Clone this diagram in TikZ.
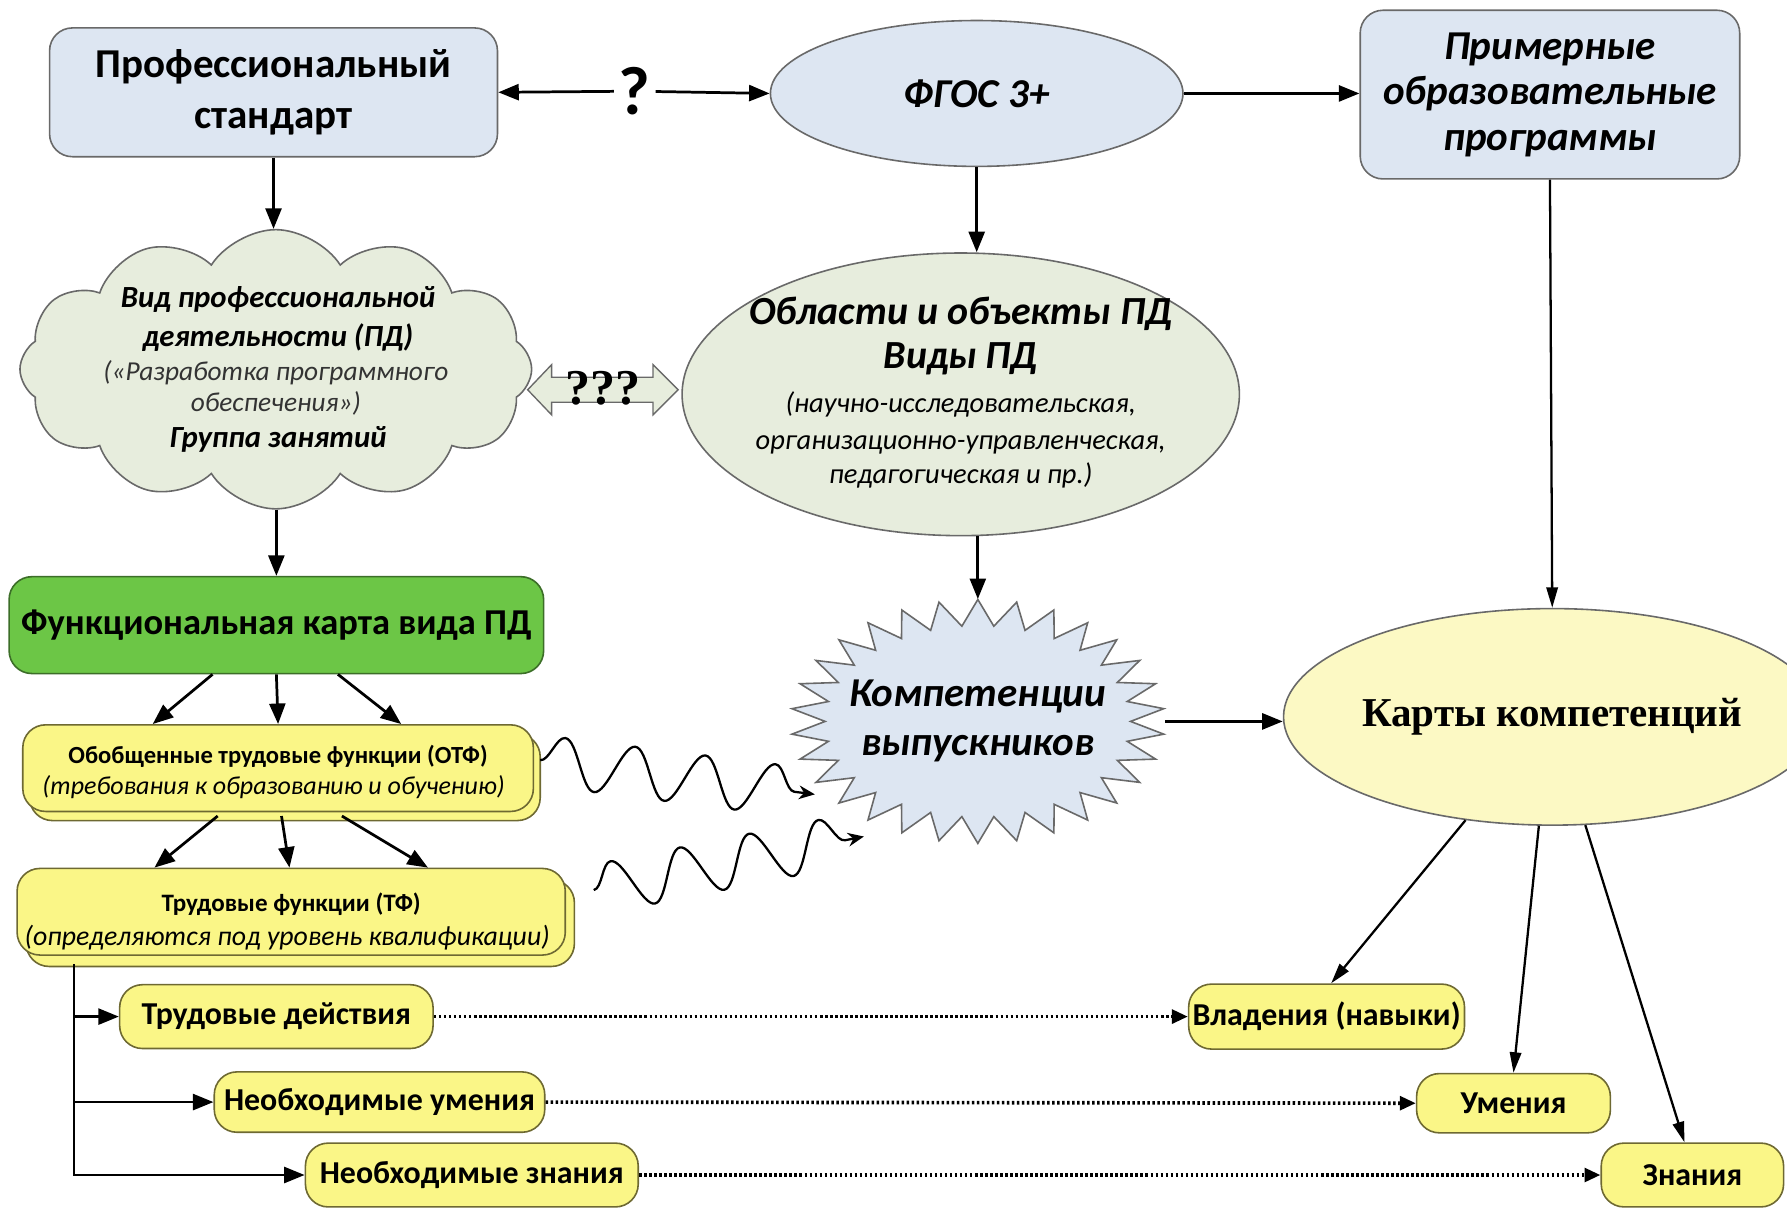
\documentclass[tikz,border=0pt]{standalone}
\usepackage{fontspec}
\setmainfont{Carlito}
\newfontfamily\tnr{Liberation Serif}
\usetikzlibrary{shapes.geometric,shapes.symbols,arrows.meta,decorations.pathmorphing,shadows,calc}
\definecolor{bluef}{RGB}{221,230,242}
\definecolor{greenf}{RGB}{231,237,221}
\definecolor{greenb}{RGB}{108,198,70}
\definecolor{greenbd}{RGB}{60,110,40}
\definecolor{yel}{RGB}{250,246,135}
\definecolor{yell}{RGB}{252,249,196}
\definecolor{edge}{RGB}{105,105,105}
\definecolor{yedge}{RGB}{110,105,50}
\newcommand\fz[2]{\fontsize{#1}{#2}\selectfont}
\begin{document}
\begin{tikzpicture}[x=0.5pt,y=-0.5pt,
  rbox/.style={draw=edge, line width=0.7pt, rounded corners=10pt, align=center, inner sep=0pt},
  ell/.style={ellipse, draw=edge, line width=0.7pt, inner sep=0pt, align=center},
  ybox/.style={rbox, fill=yel, draw=yedge, rounded corners=10pt},
  pill/.style={ybox, font=\fz{14}{16}\bfseries},
  arr/.style={line width=1.2pt, -{Triangle[length=9pt,width=7pt]}},
  thinarr/.style={line width=1pt, -{Triangle[length=9pt,width=5pt]}},
  dotarr/.style={line width=1.6pt, dash pattern=on 1.1pt off 1.1pt, -{Triangle[length=7pt,width=6pt]}},
  wavy/.style={line width=1pt, -{Stealth[length=7pt,width=6pt]}, decorate,
     decoration={snake, amplitude=11pt, segment length=31pt, post length=5pt}},
  txt/.style={inner sep=0pt, anchor=base}]
\fill[white] (0,0) rectangle (1568,1060);
\useasboundingbox (0,0) rectangle (1568,1060);

% ---------- top row
\node[rbox, fill=bluef, minimum width=196.5pt, minimum height=56.5pt, font=\fz{18}{22}\bfseries] (ps) at (240,81) {Профессиональный\\стандарт};
\node[ell, fill=bluef, minimum width=181pt, minimum height=64pt, font=\fz{18}{22}\bfseries\itshape] (fgos) at (857,82) {ФГОС 3+};
\node[rbox, fill=bluef, minimum width=166.5pt, minimum height=74pt, font=\fz{18}{20}\bfseries\itshape] (prog) at (1360,83) {Примерные\\образовательные\\программы};
\node[font=\fz{30}{30}\bfseries, inner sep=2pt] (qm) at (557,80) {?};

% ---------- cloud
\node[cloud, cloud puffs=12, cloud puff arc=115, aspect=1.85, fill=greenf, draw=edge, line width=0.7pt,
      minimum width=224.5pt, minimum height=122.5pt] (cloud) at (242,324) {};
\node[txt, font=\fz{13.5}{16}\bfseries\itshape] at (244,270) {Вид профессиональной};
\node[txt, font=\fz{13.5}{16}\bfseries\itshape] at (244,304) {деятельности (ПД)};
\node[txt, font=\fz{12}{14}\itshape, text=black!80] at (242,334) {(«Разработка программного};
\node[txt, font=\fz{12}{14}\itshape, text=black!80] at (242,361) {обеспечения»)};
\node[txt, font=\fz{13.5}{16}\bfseries\itshape] at (244,393) {Группа занятий};

% ---------- oblasti ellipse
\node[ell, fill=greenf, minimum width=244.5pt, minimum height=124pt] (obl) at (843,346) {};
\node[txt, font=\fz{17.5}{21}\bfseries\itshape] at (843,285) {Области и объекты ПД};
\node[txt, font=\fz{17.5}{21}\bfseries\itshape] at (843,323) {Виды ПД};
\node[txt, font=\fz{12.5}{15}\itshape] at (843,362) {(научно-исследовательская,};
\node[txt, font=\fz{12.5}{15}\itshape] at (843,394) {организационно-управленческая,};
\node[txt, font=\fz{12.5}{15}\itshape] at (843,424) {педагогическая и пр.)};

% ---------- ??? double arrow
\coordinate (da) at (529,342);
\filldraw[fill=greenf, draw=edge, line width=0.6pt]
  ($(da)+(-66,0)$) -- ($(da)+(-45,-22)$) -- ($(da)+(-45,-11)$) -- ($(da)+(44,-11)$) -- ($(da)+(44,-22)$)
  -- ($(da)+(66,0)$) -- ($(da)+(44,22)$) -- ($(da)+(44,11)$) -- ($(da)+(-45,11)$) -- ($(da)+(-45,22)$) -- cycle;
\node[txt, font=\fz{22}{22}\bfseries\tnr] (qqq) at (529,355) {???};

% ---------- functional map
\node[rbox, fill=greenb, draw=greenbd, minimum width=234.5pt, minimum height=42.5pt, font=\fz{16}{19}\bfseries] (func) at (242.5,548.5) {Функциональная карта вида ПД};

% ---------- OTF / TF
\node[ybox, minimum width=224pt, minimum height=38pt, copy shadow={shadow xshift=3pt, shadow yshift=-4pt, fill=yel, draw=yedge, line width=0.7pt}] (otf) at (244,674) {};
\node[txt, font=\fz{10.8}{13}\bfseries] at (244,670) {Обобщенные трудовые функции (ОТФ)};
\node[txt, font=\fz{11.4}{14}\itshape] at (240,697) {(требования к образованию и обучению)};

\node[ybox, minimum width=240.5pt, minimum height=38pt, copy shadow={shadow xshift=4pt, shadow yshift=-5pt, fill=yel, draw=yedge, line width=0.7pt}] (tf) at (255.5,800) {};
\node[txt, font=\fz{11}{14}\bfseries] at (255.5,800) {Трудовые функции (ТФ)};
\node[txt, font=\fz{12.2}{14}\itshape] at (252,830) {(определяются под уровень квалификации)};

% ---------- star
\filldraw[fill=bluef, draw=edge, line width=0.7pt]
  plot[samples at={0,...,59}, variable=\k]
  ({858+(134+30*mod(\k+1,2))*cos(6*\k+90)}, {633+(84+23*mod(\k+1,2))*sin(6*\k+90)}) -- cycle;
\node[ellipse, minimum width=164pt, minimum height=107pt, inner sep=0pt] (komp) at (858,633) {};
\node[txt, font=\fz{18}{22}\bfseries\itshape] at (858,620) {Компетенции};
\node[txt, font=\fz{18}{22}\bfseries\itshape] at (858,663) {выпускников};

% ---------- karty
\node[ell, fill=yell, minimum width=201pt, minimum height=95pt, font=\fz{18}{22}\bfseries\tnr] (karty) at (1362,629) {Карты компетенций};

% ---------- bottom pills
\node[pill, minimum width=137.5pt, minimum height=28pt] (td) at (242.5,892) {Трудовые действия};
\node[pill, minimum width=145pt, minimum height=26.5pt] (nu) at (333,967) {Необходимые умения};
\node[pill, minimum width=146pt, minimum height=28pt] (nz) at (414,1031) {Необходимые знания};
\node[pill, minimum width=121pt, minimum height=28.5pt] (vl) at (1164,892) {Владения (навыки)};
\node[pill, minimum width=85pt, minimum height=26pt] (um) at (1328,968) {Умения};
\node[pill, minimum width=80pt, minimum height=28pt] (zn) at (1485,1031) {Знания};

% ---------- connectors
\draw[arr] (qm) -- (ps.east);
\draw[arr] (qm) -- (fgos.west);
\draw[arr] (fgos.east) -- (prog.west |- fgos.east);
\draw[arr] (ps.south) -- (ps.south |- cloud.north);
\draw[arr] (fgos.south) -- (fgos.south |- obl.north);
\draw[arr] (cloud.south -| func.north) -- (func.north);
\draw[arr] (obl.south -| komp.north) -- (komp.north);
\draw[arr] (komp.east) -- (komp.east -| karty.west);
\draw[thinarr] (prog.south) -- (karty.north);

\draw[arr] ([xshift=-28pt]func.south) -- ([xshift=-55pt]otf.north);
\draw[arr] (func.south) -- (otf.north);
\draw[arr] ([xshift=27pt]func.south) -- ([xshift=54pt]otf.north);

\coordinate (otfb) at (244,716);
\draw[arr] ([xshift=-26.5pt]otfb) -- ([xshift=-60pt]tf.north);
\draw[arr] ([xshift=1.5pt]otfb) -- ([xshift=-0.75pt]tf.north);
\draw[arr] ([xshift=28pt]otfb) -- ([xshift=60pt]tf.north);

\coordinate (tfl) at (65,846);
\draw[arr] (tfl) |- (td.west);
\draw[arr] (tfl) |- (nu.west);
\draw[arr] (tfl) |- (nz.west);

\draw[dotarr] (td.east) -- (vl.west);
\draw[dotarr] (nu.east) -- (um.west);
\draw[dotarr] (nz.east) -- (zn.west);

\draw[thinarr] (karty.230) -- ([xshift=2pt]vl.north);
\draw[thinarr] (karty.263) -- (um.north);
\draw[thinarr] (karty.287) -- ([xshift=-3.5pt]zn.north);

\coordinate (w1s) at (474,667);
\coordinate (w1e) at (715,697);
\coordinate (w2s) at (521,781);
\coordinate (w2e) at (758,734);
\draw[wavy] (w1s) -- (w1e);
\draw[wavy] (w2s) -- (w2e);
\end{tikzpicture}
\end{document}
